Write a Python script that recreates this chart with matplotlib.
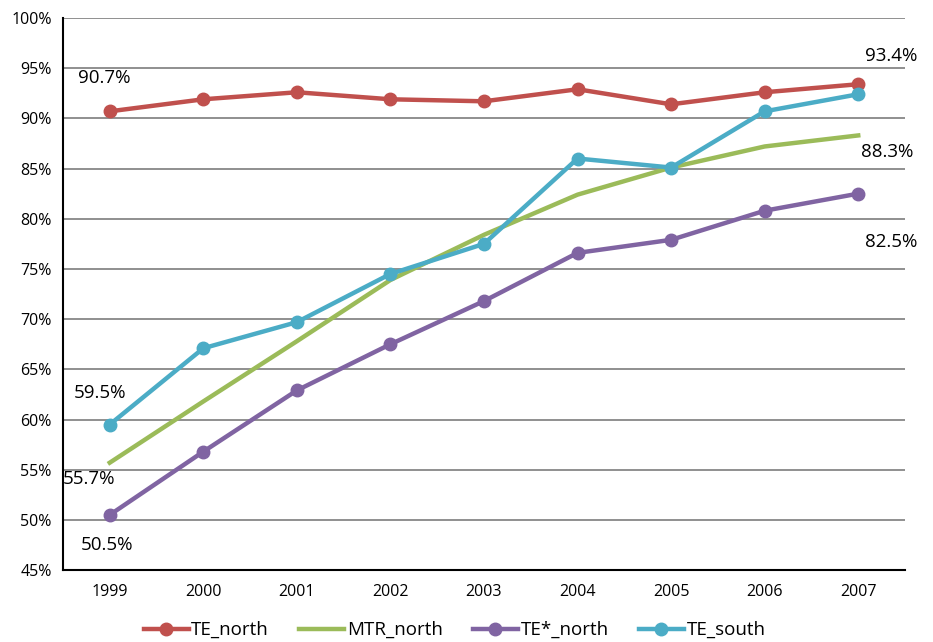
import numpy as np
import matplotlib.pyplot as plt

plt.rcParams['font.family'] = ['Open Sans', 'DejaVu Sans']

years = ['1999', '2000', '2001', '2002', '2003', '2004', '2005', '2006', '2007']
te_north = [90.7, 91.9, 92.6, 91.9, 91.7, 92.9, 91.4, 92.6, 93.4]
mtr_north = [55.7, 61.8, 67.8, 73.9, 78.4, 82.4, 85.1, 87.2, 88.3]
te_star_north = [50.5, 56.8, 62.9, 67.5, 71.8, 76.6, 77.9, 80.8, 82.5]
te_south = [59.5, 67.1, 69.7, 74.5, 77.5, 86.0, 85.1, 90.7, 92.4]

x = np.arange(len(years))

fig = plt.figure(figsize=(9.33, 6.42), dpi=100)
ax = fig.add_axes([0.0675, 0.112, 0.9025, 0.86])

ax.plot(x, te_north, color='#C0504D', lw=3.2, marker='o', ms=9, label='TE_north', zorder=3)
ax.plot(x, mtr_north, color='#9BBB59', lw=3.2, label='MTR_north', zorder=3)
ax.plot(x, te_star_north, color='#8064A2', lw=3.2, marker='o', ms=9, label='TE*_north', zorder=3)
ax.plot(x, te_south, color='#4BACC6', lw=3.2, marker='o', ms=9, label='TE_south', zorder=3)

# value labels at the ends of the lines
fs = 13.5
ax.annotate(f'{te_north[0]}%', (x[0], te_north[0]), xytext=(-4, 24), textcoords='offset points',
            ha='center', va='center', fontsize=fs)
ax.annotate(f'{te_north[-1]}%', (x[-1], te_north[-1]), xytext=(24, 20), textcoords='offset points',
            ha='center', va='center', fontsize=fs)
ax.annotate(f'{mtr_north[-1]}%', (x[-1], mtr_north[-1]), xytext=(21, -12), textcoords='offset points',
            ha='center', va='center', fontsize=fs)
ax.annotate(f'{te_star_north[-1]}%', (x[-1], te_star_north[-1]), xytext=(24, -35), textcoords='offset points',
            ha='center', va='center', fontsize=fs)
ax.annotate(f'{te_south[0]}%', (x[0], te_south[0]), xytext=(-7, 23), textcoords='offset points',
            ha='center', va='center', fontsize=fs)
ax.annotate(f'{mtr_north[0]}%', (x[0], mtr_north[0]), xytext=(-15, -12), textcoords='offset points',
            ha='center', va='center', fontsize=fs)
ax.annotate(f'{te_star_north[0]}%', (x[0], te_star_north[0]), xytext=(-2, -22), textcoords='offset points',
            ha='center', va='center', fontsize=fs)

ax.set_xlim(-0.5, len(years) - 0.5)
ax.set_ylim(45, 100)
ax.set_xticks(x)
ax.set_xticklabels(years)
ax.set_yticks(np.arange(45, 101, 5))
ax.set_yticklabels([f'{v}%' for v in range(45, 101, 5)])
ax.tick_params(axis='both', length=0, labelsize=11.5)
ax.tick_params(axis='x', pad=10)
ax.tick_params(axis='y', pad=8)

ax.grid(axis='y', color='#878787', lw=1.3)
ax.set_axisbelow(True)
ax.spines['top'].set_visible(False)
ax.spines['right'].set_visible(False)
ax.spines['left'].set_linewidth(1.5)
ax.spines['bottom'].set_linewidth(1.5)

ax.legend(loc='upper center', bbox_to_anchor=(0.465, -0.062), ncol=4, frameon=False,
          fontsize=13.5, handlelength=2.4, handletextpad=0.15, columnspacing=1.6)

plt.savefig('out.png', dpi=100)
